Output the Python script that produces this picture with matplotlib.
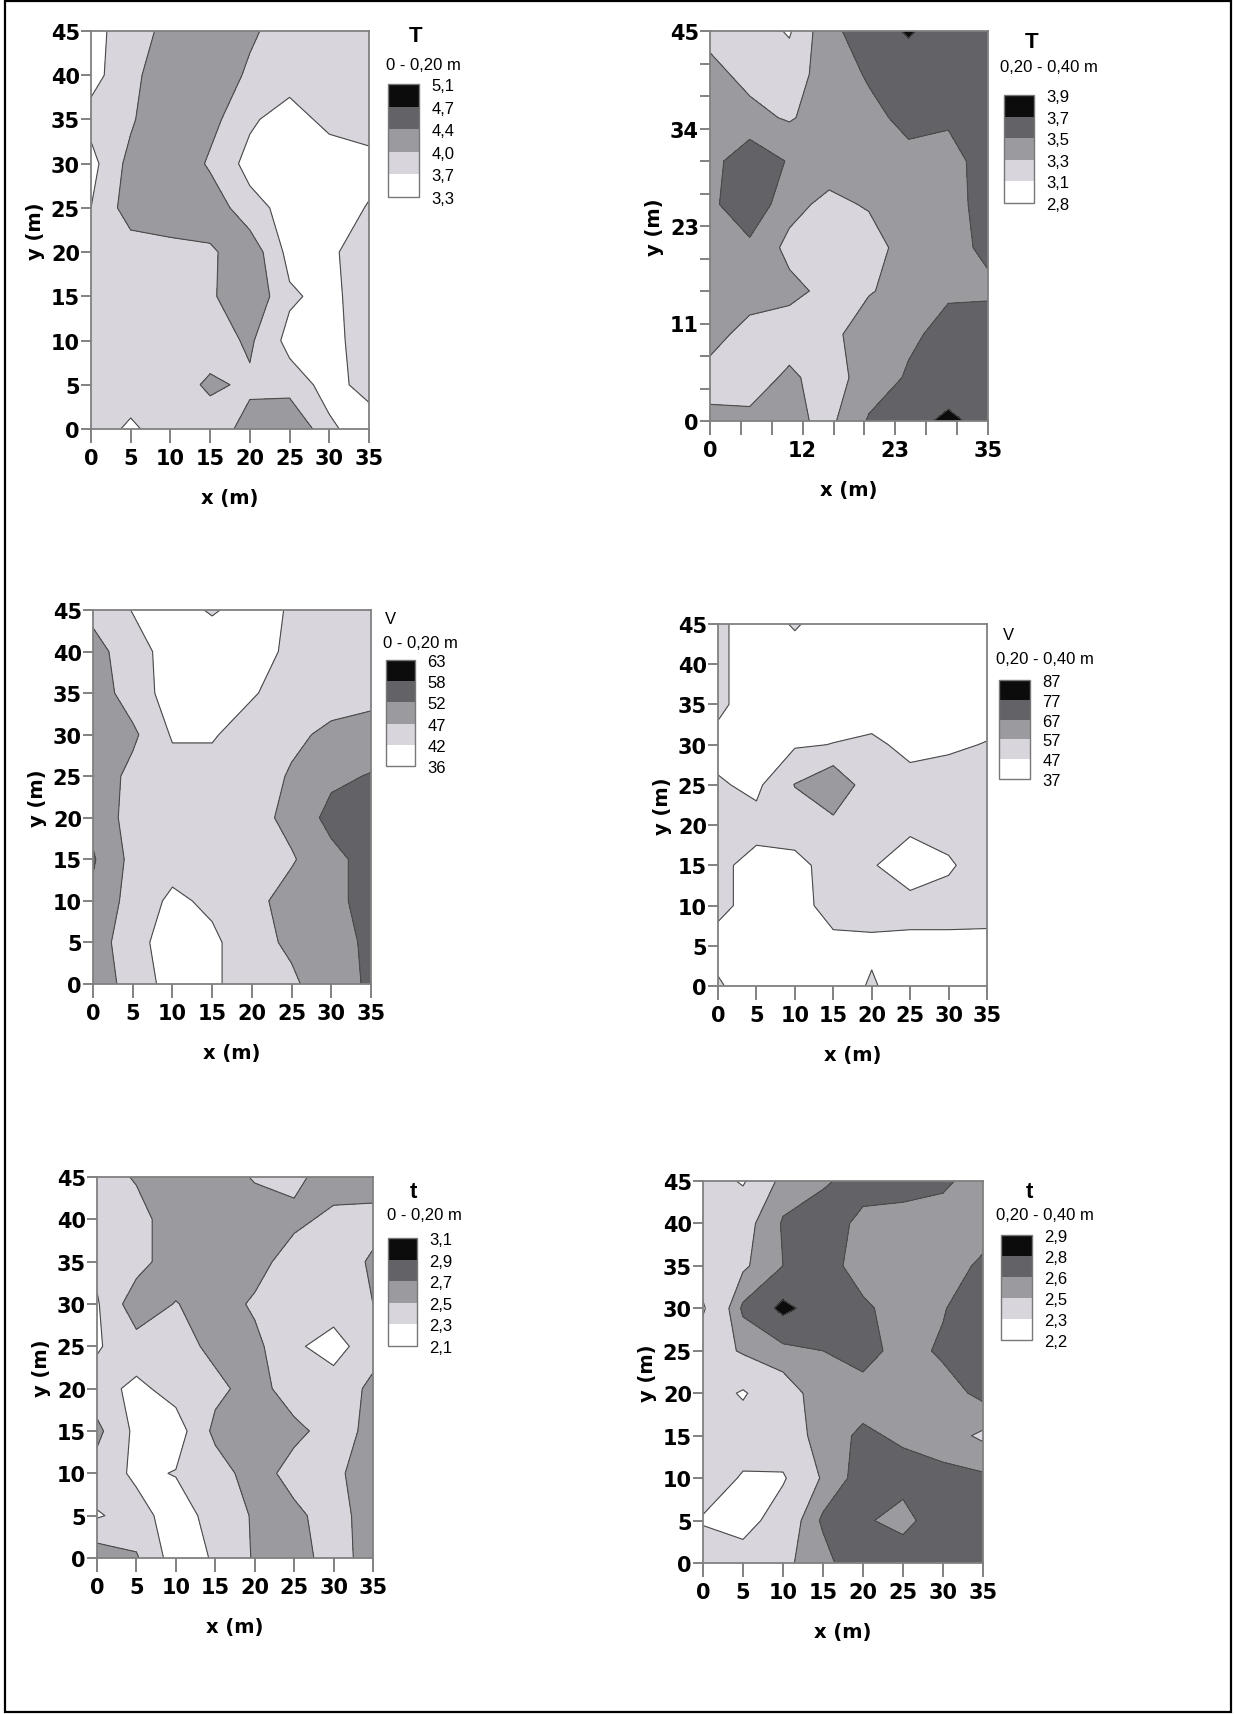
import numpy as np
import matplotlib.pyplot as plt
from matplotlib.patches import Rectangle

# malla de muestreo (m)
x_m = [0, 5, 10, 15, 20, 25, 30, 35]
y_m = [0, 5, 10, 15, 20, 25, 30, 35, 40, 45]

# T 0 - 0,20 m  (filas de y=0 a y=45)
T_sup = [
    [3.85, 3.65, 3.85, 3.85, 4.10, 4.35, 3.75, 3.55],
    [3.85, 3.85, 3.85, 4.05, 3.95, 3.85, 3.60, 3.80],
    [3.85, 3.85, 3.85, 3.85, 4.05, 3.60, 3.60, 3.85],
    [3.85, 3.85, 3.85, 3.95, 4.25, 3.75, 3.60, 3.90],
    [3.85, 3.85, 3.85, 3.95, 4.20, 3.60, 3.65, 3.85],
    [3.70, 4.15, 4.30, 4.20, 3.80, 3.60, 3.55, 3.72],
    [3.60, 4.10, 4.30, 3.95, 3.60, 3.50, 3.50, 3.60],
    [3.80, 3.95, 4.35, 4.10, 3.75, 3.55, 3.80, 3.85],
    [3.60, 3.90, 4.25, 4.20, 3.95, 3.85, 3.85, 3.85],
    [3.60, 3.85, 4.10, 4.25, 4.05, 3.85, 3.90, 3.85],
]
T_sup_niveles = [3.3, 3.7, 4.0, 4.4, 4.7, 5.1]
T_sup_etiq = ["3,3", "3,7", "4,0", "4,4", "4,7", "5,1"]

# T 0,20 - 0,40 m
T_sub = [
    [3.35, 3.35, 3.35, 3.25, 3.52, 3.65, 3.73, 3.65],
    [3.22, 3.20, 3.34, 3.20, 3.40, 3.52, 3.62, 3.60],
    [3.38, 3.22, 3.20, 3.22, 3.45, 3.47, 3.55, 3.60],
    [3.40, 3.40, 3.35, 3.25, 3.28, 3.40, 3.48, 3.47],
    [3.42, 3.45, 3.25, 3.20, 3.20, 3.40, 3.45, 3.53],
    [3.45, 3.66, 3.36, 3.25, 3.32, 3.40, 3.45, 3.55],
    [3.42, 3.65, 3.48, 3.40, 3.40, 3.45, 3.45, 3.56],
    [3.40, 3.35, 3.28, 3.40, 3.45, 3.55, 3.52, 3.60],
    [3.35, 3.25, 3.20, 3.40, 3.52, 3.60, 3.62, 3.65],
    [3.25, 3.20, 3.08, 3.45, 3.60, 3.72, 3.60, 3.60],
]
T_sub_niveles = [2.8, 3.1, 3.3, 3.5, 3.7, 3.9]
T_sub_etiq = ["2,8", "3,1", "3,3", "3,5", "3,7", "3,9"]

# V 0 - 0,20 m
V_sup = [
    [50.0, 45.0, 40.0, 41.0, 45.0, 46.0, 50.5, 52.5],
    [50.0, 43.5, 40.0, 41.0, 45.0, 48.0, 50.0, 53.0],
    [51.0, 45.0, 41.0, 43.0, 45.5, 49.0, 50.5, 54.0],
    [52.5, 45.5, 44.0, 44.0, 44.5, 46.5, 50.5, 54.0],
    [50.5, 45.0, 44.0, 44.0, 45.0, 48.5, 53.5, 55.0],
    [50.5, 45.5, 44.0, 44.0, 44.5, 47.5, 51.0, 52.3],
    [51.5, 48.0, 41.5, 41.5, 44.5, 46.0, 48.0, 49.0],
    [50.0, 44.5, 40.0, 40.0, 41.5, 44.5, 45.0, 45.5],
    [49.0, 44.0, 40.0, 39.0, 40.0, 43.0, 44.5, 45.0],
    [45.5, 41.8, 40.0, 42.5, 40.0, 42.5, 44.5, 45.0],
]
V_sup_niveles = [36, 42, 47, 52, 58, 63]
V_sup_etiq = ["36", "42", "47", "52", "58", "63"]

# V 0,20 - 0,40 m
V_sub = [
    [48.0, 42.0, 42.0, 42.0, 48.0, 42.0, 42.0, 46.0],
    [44.0, 42.0, 43.0, 45.0, 45.5, 45.0, 45.0, 45.5],
    [49.0, 44.0, 44.0, 50.0, 50.0, 50.0, 50.0, 49.0],
    [49.0, 44.0, 44.0, 51.0, 47.8, 42.0, 46.0, 51.0],
    [48.0, 50.0, 52.0, 54.0, 53.0, 49.0, 50.0, 52.0],
    [48.0, 45.0, 57.3, 66.0, 50.0, 49.5, 50.0, 56.0],
    [44.0, 43.0, 46.0, 47.2, 48.5, 45.0, 46.0, 47.3],
    [49.0, 42.0, 42.0, 43.0, 43.0, 43.0, 43.0, 44.0],
    [49.0, 42.0, 42.0, 42.0, 42.0, 42.0, 42.0, 44.0],
    [49.0, 42.0, 48.0, 42.0, 42.0, 42.0, 42.0, 44.0],
]
V_sub_niveles = [37, 47, 57, 67, 77, 87]
V_sub_etiq = ["37", "47", "57", "67", "77", "87"]

# t 0 - 0,20 m
t_sup = [
    [2.62, 2.52, 2.20, 2.32, 2.52, 2.60, 2.40, 2.60],
    [2.28, 2.38, 2.20, 2.38, 2.52, 2.55, 2.40, 2.62],
    [2.42, 2.26, 2.31, 2.40, 2.60, 2.42, 2.45, 2.62],
    [2.55, 2.25, 2.20, 2.55, 2.62, 2.55, 2.42, 2.55],
    [2.38, 2.25, 2.38, 2.45, 2.58, 2.40, 2.42, 2.53],
    [2.28, 2.42, 2.42, 2.55, 2.55, 2.34, 2.20, 2.45],
    [2.28, 2.62, 2.49, 2.60, 2.47, 2.38, 2.42, 2.50],
    [2.35, 2.42, 2.62, 2.62, 2.58, 2.40, 2.42, 2.52],
    [2.40, 2.42, 2.62, 2.65, 2.62, 2.55, 2.45, 2.45],
    [2.40, 2.52, 2.62, 2.62, 2.48, 2.45, 2.60, 2.58],
]
t_sup_niveles = [2.1, 2.3, 2.5, 2.7, 2.9, 3.1]
t_sup_etiq = ["2,1", "2,3", "2,5", "2,7", "2,9", "3,1"]

# t 0,20 - 0,40 m
t_sub = [
    [2.45, 2.40, 2.48, 2.55, 2.72, 2.70, 2.72, 2.70],
    [2.28, 2.22, 2.40, 2.62, 2.62, 2.55, 2.70, 2.75],
    [2.42, 2.28, 2.28, 2.52, 2.65, 2.65, 2.63, 2.62],
    [2.40, 2.40, 2.42, 2.55, 2.62, 2.58, 2.55, 2.48],
    [2.40, 2.28, 2.45, 2.55, 2.55, 2.55, 2.55, 2.63],
    [2.40, 2.52, 2.55, 2.60, 2.65, 2.55, 2.62, 2.70],
    [2.28, 2.62, 2.85, 2.70, 2.62, 2.55, 2.59, 2.70],
    [2.40, 2.48, 2.60, 2.65, 2.55, 2.55, 2.55, 2.62],
    [2.40, 2.45, 2.61, 2.68, 2.56, 2.55, 2.55, 2.55],
    [2.40, 2.28, 2.55, 2.58, 2.66, 2.65, 2.62, 2.55],
]
t_sub_niveles = [2.2, 2.3, 2.5, 2.6, 2.8, 2.9]
t_sub_etiq = ["2,2", "2,3", "2,5", "2,6", "2,8", "2,9"]

grises = ["#ffffff", "#d8d5dc", "#9b9a9e", "#636266", "#0c0c0c"]

W, H = 1234, 1715
fig = plt.figure(figsize=(W / 100, H / 100), dpi=100)


def caja(x0, x1, y0, y1):
    # pixeles de la imagen -> fraccion de figura
    return [x0 / W, 1 - y1 / H, (x1 - x0) / W, (y1 - y0) / H]


def mapa(pos, pos_cb, z, niveles, etiquetas, letra, prof, pos_letra, pos_prof,
         letra_bold=True, ticks_raros=False):
    ax = fig.add_axes(caja(*pos))
    X, Y = np.meshgrid(x_m, y_m)
    Z = np.array(z)
    cs = ax.contourf(X, Y, Z, levels=niveles, colors=grises)
    ax.contour(X, Y, Z, levels=niveles, colors="#4a4a4a", linewidths=0.8)
    ax.set_xlim(0, 35)
    ax.set_ylim(0, 45)

    if ticks_raros:
        xt = np.linspace(0, 35, 10)
        yt = np.linspace(0, 45, 13)
        ax.set_xticks(xt)
        ax.set_xticklabels(["0", "", "", "12", "", "", "23", "", "", "35"])
        ax.set_yticks(yt)
        ax.set_yticklabels(["0", "", "", "11", "", "", "23", "", "", "34", "", "", "45"])
    else:
        ax.set_xticks(range(0, 36, 5))
        ax.set_yticks(range(0, 46, 5))

    for lab in ax.get_xticklabels() + ax.get_yticklabels():
        lab.set_fontweight("bold")
        lab.set_fontsize(15)
        lab.set_family("DejaVu Sans")
    ax.tick_params(axis="x", direction="out", length=10, width=1.3, color="#777777", pad=4)
    ax.tick_params(axis="y", direction="out", length=7, width=1.3, color="#777777", pad=1)
    for s in ax.spines.values():
        s.set_color("#808080")
        s.set_linewidth(1.3)
    ax.set_xlabel("x (m)", fontsize=14, fontweight="bold", family="DejaVu Sans", labelpad=14)
    ax.set_ylabel("y (m)", fontsize=14, fontweight="bold", family="DejaVu Sans", labelpad=4)

    # barra de colores con bloques iguales
    cax = fig.add_axes(caja(*pos_cb))
    cb = fig.colorbar(cs, cax=cax)
    cb.set_ticks(niveles)
    cb.set_ticklabels(etiquetas)
    cb.outline.set_edgecolor("#777777")
    cb.outline.set_linewidth(1.0)
    cax.tick_params(length=0, pad=9)
    for lab in cax.get_yticklabels():
        lab.set_fontsize(12)
        lab.set_family("Liberation Sans")

    if letra_bold:
        fig.text(pos_letra[0] / W, 1 - pos_letra[1] / H, letra, fontsize=16,
                 fontweight="bold", family="Liberation Sans", ha="center", va="center")
    else:
        fig.text(pos_letra[0] / W, 1 - pos_letra[1] / H, letra, fontsize=12,
                 family="Liberation Sans", ha="center", va="center")
    fig.text(pos_prof[0] / W, 1 - pos_prof[1] / H, prof, fontsize=12,
             family="Liberation Sans", ha="center", va="center")
    return ax


mapa((91, 369, 32, 430), (388, 419, 85, 198), T_sup, T_sup_niveles, T_sup_etiq,
     "T", "0 - 0,20 m", (416, 37), (423, 66))
mapa((710, 988, 32, 422), (1004, 1034, 96, 204), T_sub, T_sub_niveles, T_sub_etiq,
     "T", "0,20 - 0,40 m", (1032, 43), (1049, 68), ticks_raros=True)
mapa((93, 371, 611, 985), (386, 415, 661, 767), V_sup, V_sup_niveles, V_sup_etiq,
     "V", "0 - 0,20 m", (390, 619), (420, 644), letra_bold=False)
mapa((718, 987, 625, 987), (999, 1030, 681, 780), V_sub, V_sub_niveles, V_sub_etiq,
     "V", "0,20 - 0,40 m", (1008, 635), (1045, 659), letra_bold=False)
mapa((97, 373, 1178, 1559), (388, 417, 1239, 1347), t_sup, t_sup_niveles, t_sup_etiq,
     "t", "0 - 0,20 m", (413, 1192), (424, 1216))
mapa((703, 983, 1182, 1564), (1001, 1032, 1236, 1341), t_sub, t_sub_niveles, t_sub_etiq,
     "t", "0,20 - 0,40 m", (1029, 1193), (1045, 1216))

# marco exterior
fig.patches.append(Rectangle((5 / W, 2 / H), 1226 / W, 1711 / H, transform=fig.transFigure,
                             fill=False, edgecolor="black", linewidth=1.6))

fig.savefig("out.png", dpi=100)
